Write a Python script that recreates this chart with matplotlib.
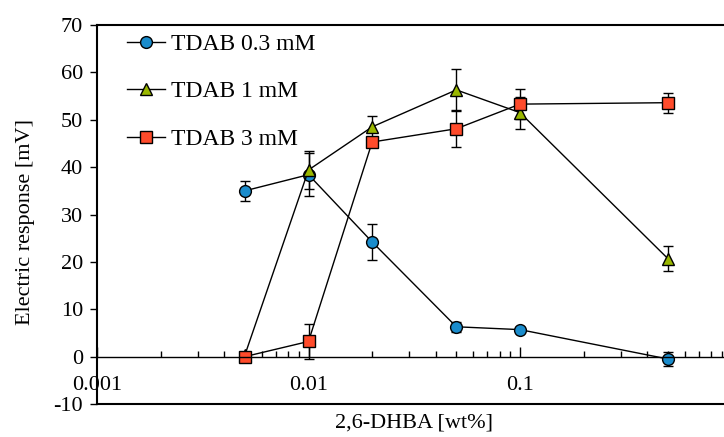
import numpy as np
import matplotlib
matplotlib.use("Agg")
import matplotlib.pyplot as plt
from matplotlib.lines import Line2D
from matplotlib.ticker import LogLocator, NullFormatter, FixedLocator

plt.rcParams['font.family'] = ['Liberation Serif', 'DejaVu Serif']
plt.rcParams['font.size'] = 16
plt.rcParams['axes.unicode_minus'] = False

# Input data
conc = [0.005, 0.01, 0.02, 0.05, 0.1, 0.5]
tdab03 = [35.0, 38.4, 24.2, 6.3, 5.7, -0.5]
tdab03_err = [2.1, 4.5, 3.8, 1.0, 0.5, 1.5]
tdab1 = [0.3, 39.4, 48.5, 56.3, 51.5, 20.7]
tdab1_err = [0.0, 4.0, 2.3, 4.4, 3.4, 2.6]
tdab3 = [0.0, 3.2, 45.3, 48.1, 53.3, 53.6]
tdab3_err = [0.0, 3.6, 0.8, 3.9, 3.2, 2.1]
labels = ['TDAB 0.3 mM', 'TDAB 1 mM', 'TDAB 3 mM']

fig = plt.figure(figsize=(7.24, 4.37), dpi=100)
ax = fig.add_axes([97 / 724, 1 - 404 / 437, 634.5 / 724, 379 / 437])

series = [
    (tdab03, tdab03_err, 'o', '#1a8ccc', 8.5),
    (tdab1, tdab1_err, '^', '#9ab700', 8.5),
    (tdab3, tdab3_err, 's', '#ff4b2b', 8),
]
handles = []
for (y, e, m, c, ms), lab in zip(series, labels):
    ax.errorbar(conc, y, yerr=e, fmt='-' + m, color='black', mfc=c, mec='black',
                mew=1.0, ms=ms, lw=1.0, elinewidth=1.0, capsize=3.5, capthick=1.0)
    handles.append(Line2D([], [], color='black', lw=1.0, marker=m, mfc=c,
                          mec='black', mew=1.0, ms=ms, label=lab))

ax.set_xscale('log')
ax.set_xlim(0.001, 1)
ax.set_ylim(-10, 70)
ax.set_yticks(np.arange(-10, 71, 10))

# x axis crosses at y = 0, box bottom drawn at -10
ax.spines['bottom'].set_position(('data', 0))
ax.spines['bottom'].set_linewidth(1.0)
ax.spines['right'].set_visible(False)
ax.spines['left'].set_linewidth(1.5)
ax.spines['top'].set_linewidth(1.5)
ax.axhline(-10, color='black', lw=1.5, clip_on=False)

ax.xaxis.set_major_locator(FixedLocator([0.001, 0.01, 0.1]))
ax.set_xticklabels(['0.001', '0.01', '0.1'])
ax.xaxis.set_minor_locator(LogLocator(base=10, subs=np.arange(2, 10)))
ax.xaxis.set_minor_formatter(NullFormatter())
ax.tick_params(axis='x', which='major', direction='in', length=7, width=1, pad=14)
ax.tick_params(axis='x', which='minor', direction='in', length=4, width=1)
ax.tick_params(axis='y', which='major', direction='out', length=5, width=1, pad=5)

ax.set_xlabel('2,6-DHBA [wt%]')
ax.xaxis.set_label_coords(0.5, -0.025)
ax.set_ylabel('Electric response [mV]')
ax.yaxis.set_label_coords(-0.098, 0.48)

ax.legend(handles=handles, loc='upper left', bbox_to_anchor=(0.027, 1.012),
          frameon=False, fontsize=17, handlelength=1.6, handletextpad=0.25,
          labelspacing=1.1, borderaxespad=0.15)

fig.savefig('out.png', dpi=100)
